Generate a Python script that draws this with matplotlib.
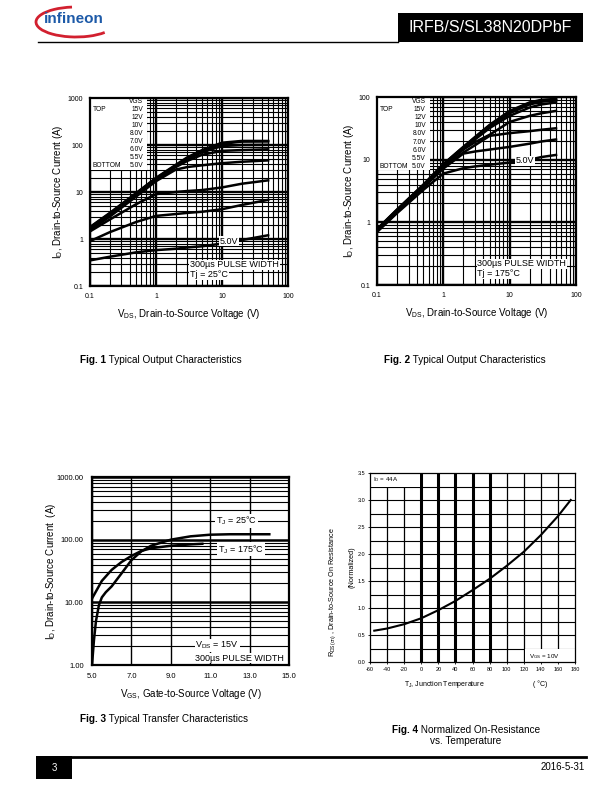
import matplotlib
matplotlib.use('Agg')
import matplotlib.pyplot as plt
from matplotlib.ticker import LogLocator, FixedLocator, NullFormatter
from matplotlib.patches import Rectangle, Arc

plt.rcParams['font.family'] = ['Liberation Sans', 'DejaVu Sans']
plt.rcParams['mathtext.fontset'] = 'custom'
plt.rcParams['mathtext.rm'] = 'Liberation Sans'
plt.rcParams['mathtext.it'] = 'Liberation Sans:italic'
plt.rcParams['mathtext.bf'] = 'Liberation Sans:bold'
plt.rcParams['axes.unicode_minus'] = False

# ---------------- data ----------------
vgs_labels = ['15V', '12V', '10V', '8.0V', '7.0V', '6.0V', '5.5V', '5.0V']

# Fig.1  Tj = 25C
vds_25 = [0.1, 0.2, 0.5, 1, 2, 3, 5, 10, 20, 50]
id25_15v = [1.8, 3.6, 9.5, 20, 38, 55, 78, 112, 122, 122]
id25_12v = [1.75, 3.5, 9.2, 19.5, 37, 53, 75, 106, 118, 119]
id25_10v = [1.7, 3.4, 9.0, 19, 36, 50, 70, 95, 100, 101]
id25_8v = [1.65, 3.3, 8.6, 18, 34, 46, 62, 75, 78, 81]
id25_7v = [1.55, 3.0, 8.0, 17, 30, 34, 37, 41, 44, 47]
id25_6v = [1.45, 2.6, 5.5, 9.0, 10, 10.5, 11, 12.5, 15, 17.7]
id25_55v = [0.9, 1.4, 2.3, 3.1, 3.4, 3.6, 3.8, 4.3, 5.3, 6.8]
id25_5v = [0.35, 0.42, 0.52, 0.58, 0.62, 0.66, 0.7, 0.8, 0.95, 1.2]

# Fig.2  Tj = 175C
vds_175 = [0.1, 0.2, 0.5, 1, 2, 3, 5, 10, 20, 30, 50]
id175_15v = [0.78, 1.6, 4.0, 8.5, 16, 23, 36, 60, 82, 90, 93]
id175_12v = [0.77, 1.58, 3.95, 8.4, 15.8, 22.5, 35, 58, 80, 88, 91]
id175_10v = [0.76, 1.55, 3.9, 8.3, 15.5, 22, 34, 55, 76, 84, 88]
id175_8v = [0.75, 1.52, 3.85, 8.2, 15, 21, 32, 50, 68, 76, 82]
id175_7v = [0.74, 1.5, 3.8, 8.0, 14.5, 19, 25, 40, 50, 55, 60]
id175_6v = [0.73, 1.47, 3.7, 7.7, 13, 17, 24, 26.5, 28.5, 30, 31.7]
id175_55v = [0.72, 1.45, 3.6, 7.2, 12.5, 13.5, 14.5, 16, 18, 19.5, 21]
id175_5v = [0.7, 1.4, 3.3, 6.0, 7.3, 7.8, 8.3, 9, 10, 11, 11.9]

# Fig.3  transfer characteristics
vgs_tj25 = [5.0, 5.1, 5.2, 5.35, 5.5, 5.7, 6.0, 6.5, 7.0, 7.5, 8.0, 9.0, 10.0, 11.0, 12.0, 14.0]
id_tj25 = [1.0, 2.5, 5.0, 9.0, 12, 14.5, 18, 29, 47, 65, 80, 100, 113, 120, 122, 122]
vgs_tj175 = [5.0, 5.5, 6.0, 6.5, 7.0, 7.5, 8.0, 9.0, 10.0, 10.6]
id_tj175 = [11.5, 22, 33, 44, 55, 66, 73, 80, 84, 86]

# Fig.4  normalized Rds(on)
tj = [-55, -40, -20, 0, 20, 40, 60, 80, 100, 120, 140, 160, 175]
rds_norm = [0.58, 0.62, 0.70, 0.81, 0.96, 1.13, 1.33, 1.54, 1.78, 2.04, 2.35, 2.70, 3.0]

W, H = 612, 792


def rect(l, t, r, b):
    return [l / W, 1 - b / H, (r - l) / W, (b - t) / H]


fig = plt.figure(figsize=(6.12, 7.92), dpi=100)

# page overlay in pixel coords
page = fig.add_axes([0, 0, 1, 1])
page.set_xlim(0, W)
page.set_ylim(H, 0)
page.axis('off')


def log_axes(ax):
    ax.set_axisbelow(True)
    ax.grid(which='major', color='k', lw=1.7)
    ax.grid(which='minor', color='k', lw=0.8)
    ax.tick_params(which='both', length=0, labelsize=5, pad=5)
    for s in ax.spines.values():
        s.set_linewidth(1.6)


def output_chart(ax, vds, curves, yl, yticks, box_w, box_b, y_vgs, y_top, dy, tjtxt, lbl5):
    for c in curves:
        ax.plot(vds, c, color='k', lw=1.8, zorder=3)
    ax.set_xscale('log')
    ax.set_yscale('log')
    ax.set_xlim(0.1, 100)
    ax.set_ylim(*yl)
    ax.xaxis.set_major_locator(FixedLocator([0.1, 1, 10, 100]))
    ax.set_xticklabels(['0.1', '1', '10', '100'])
    ax.yaxis.set_major_locator(FixedLocator(yticks))
    ax.set_yticklabels([('%g' % v) for v in yticks])
    ax.xaxis.set_minor_locator(LogLocator(subs=range(2, 10)))
    ax.yaxis.set_minor_locator(LogLocator(subs=range(2, 10)))
    ax.xaxis.set_minor_formatter(NullFormatter())
    ax.yaxis.set_minor_formatter(NullFormatter())
    log_axes(ax)
    # white legend area top-left
    ax.add_patch(Rectangle((0, box_b), box_w, 1 - box_b, transform=ax.transAxes,
                           facecolor='white', edgecolor='none', zorder=1))
    fs = 4.8
    xr = box_w - 0.02
    ax.text(xr, y_vgs, 'VGS', transform=ax.transAxes, ha='right', va='center', fontsize=fs)
    for i, lab in enumerate(vgs_labels):
        ax.text(xr, y_top - dy * i, lab, transform=ax.transAxes, ha='right', va='center', fontsize=fs)
    ax.text(0.015, y_top, 'TOP', transform=ax.transAxes, ha='left', va='center', fontsize=fs)
    ax.text(0.015, y_top - dy * 7, 'BOTTOM', transform=ax.transAxes, ha='left', va='center', fontsize=fs)
    bb = dict(facecolor='white', edgecolor='none', pad=0.6)
    ax.text(0.505, 0.112, '300µs PULSE WIDTH', transform=ax.transAxes, fontsize=6.5,
            va='center', ha='left', bbox=bb, zorder=4)
    ax.text(0.505, 0.059, tjtxt, transform=ax.transAxes, fontsize=6.5,
            va='center', ha='left', bbox=bb, zorder=4)
    ax.text(lbl5[0], lbl5[1], '5.0V', transform=ax.transAxes, fontsize=6.5,
            va='center', ha='center', bbox=bb, zorder=4)
    ax.set_xlabel(r'V$_{\rm DS}$, Drain-to-Source Voltage (V)', fontsize=7, labelpad=5)
    ax.set_ylabel(r'I$_{\rm D}$, Drain-to-Source Current (A)', fontsize=7, labelpad=2)


# ---------- Fig 1 ----------
ax1 = fig.add_axes(rect(90, 98, 288, 286))
output_chart(ax1, vds_25,
             [id25_15v, id25_12v, id25_10v, id25_8v, id25_7v, id25_6v, id25_55v, id25_5v],
             (0.1, 1000), [0.1, 1, 10, 100, 1000], 0.29, 0.615, 0.979, 0.94, 0.0426,
             'Tj = 25°C', (0.702, 0.239))

# ---------- Fig 2 ----------
ax2 = fig.add_axes(rect(377, 97, 576, 285))
output_chart(ax2, vds_175,
             [id175_15v, id175_12v, id175_10v, id175_8v, id175_7v, id175_6v, id175_55v, id175_5v],
             (0.1, 100), [0.1, 1, 10, 100], 0.265, 0.61, 0.975, 0.931, 0.0426,
             'Tj = 175°C', (0.744, 0.66))

# ---------- Fig 3 ----------
ax3 = fig.add_axes(rect(92, 477, 289, 665))
ax3.plot(vgs_tj25, id_tj25, color='k', lw=1.8, zorder=3)
ax3.plot(vgs_tj175, id_tj175, color='k', lw=1.8, zorder=3)
ax3.set_yscale('log')
ax3.set_xlim(5, 15)
ax3.set_ylim(1, 1000)
ax3.set_xticks([5, 7, 9, 11, 13, 15])
ax3.set_xticklabels(['5.0', '7.0', '9.0', '11.0', '13.0', '15.0'])
ax3.yaxis.set_major_locator(FixedLocator([1, 10, 100, 1000]))
ax3.set_yticklabels(['1.00', '10.00', '100.00', '1000.00'])
ax3.yaxis.set_minor_locator(LogLocator(subs=range(2, 10)))
ax3.yaxis.set_minor_formatter(NullFormatter())
ax3.set_axisbelow(True)
ax3.grid(which='major', axis='y', color='k', lw=1.8)
ax3.grid(which='minor', axis='y', color='k', lw=0.8)
ax3.grid(which='major', axis='x', color='k', lw=1.0)
ax3.tick_params(which='both', length=0, labelsize=5.5, pad=6)
for s in ax3.spines.values():
    s.set_linewidth(1.6)
bb = dict(facecolor='white', edgecolor='none', pad=0.6)
ax3.text(12.35, 200, r'T$_{\rm J}$ = 25°C', fontsize=6.5, ha='center', va='center', bbox=bb, zorder=4)
ax3.text(12.55, 70, r'T$_{\rm J}$ = 175°C', fontsize=6.5, ha='center', va='center', bbox=bb, zorder=4)
ax3.text(10.25, 2.08, r'V$_{\rm DS}$ = 15V', fontsize=6.5, ha='left', va='center', bbox=bb, zorder=4)
ax3.text(10.25, 1.29, '300µs PULSE WIDTH', fontsize=6.5, ha='left', va='center', bbox=bb, zorder=4)
ax3.set_xlabel(r'V$_{\rm GS}$, Gate-to-Source Voltage (V)', fontsize=7, labelpad=5)
ax3.set_ylabel(r'I$_{\rm D}$, Drain-to-Source Current  (A)', fontsize=7, labelpad=-1)

# ---------- Fig 4 ----------
ax4 = fig.add_axes(rect(370, 473, 575, 662))
ax4.plot(tj, rds_norm, color='k', lw=1.5, zorder=3)
ax4.set_xlim(-60, 180)
ax4.set_ylim(0, 3.5)
ax4.set_xticks(range(-60, 181, 20))
ax4.set_yticks([0, 0.5, 1.0, 1.5, 2.0, 2.5, 3.0, 3.5])
ax4.set_yticklabels(['0.0', '0.5', '1.0', '1.5', '2.0', '2.5', '3.0', '3.5'])
for x in range(-40, 180, 20):
    ax4.axvline(x, color='k', lw=2.2 if 0 <= x <= 80 else 0.9, zorder=0.5)
for k in range(1, 14):
    ax4.axhline(k * 0.25, color='k', lw=0.8, zorder=0.5)
ax4.add_patch(Rectangle((-60, 3.25), 58.5, 0.25, facecolor='white', edgecolor='none', zorder=1))
ax4.add_patch(Rectangle((121, 0.0), 59, 0.245, facecolor='white', edgecolor='none', zorder=1))
ax4.text(-56.5, 3.37, r'I$_{\rm D}$ = 44A', fontsize=4.5, ha='left', va='center', zorder=4)
ax4.text(126, 0.11, r'V$_{\rm GS}$ = 10V', fontsize=4.5, ha='left', va='center', zorder=4)
ax4.tick_params(which='both', length=1.5, width=0.6, labelsize=4, pad=2)
for s in ax4.spines.values():
    s.set_linewidth(0.9)

page.text(444, 684, r'T$_{\rm J}$, Junction Temperature', fontsize=5, ha='center', va='center')
page.text(540, 684, '( °C)', fontsize=5, ha='center', va='center')
page.text(333, 592, r'R$_{\rm DS(on)}$ , Drain-to-Source On Resistance', fontsize=5.2, rotation=90,
          ha='center', va='center')
page.text(352, 567, '(Normalized)', fontsize=5.2, rotation=90, ha='center', va='center')

# ---------- captions: bold "Fig. n" followed by regular text ----------
renderer = fig.canvas.get_renderer()


def caption(x, y, num, txt):
    t1 = page.text(x, y, 'Fig. %s' % num, fontsize=7.2, fontweight='bold', ha='left', va='baseline')
    ext = t1.get_window_extent(renderer)
    x1 = page.transData.inverted().transform((ext.x1, ext.y0))[0]
    page.text(x1, y, ' ' + txt, fontsize=7.2, ha='left', va='baseline')


caption(80, 363, '1', 'Typical Output Characteristics')
caption(384, 363, '2', 'Typical Output Characteristics')
caption(80, 722, '3', 'Typical Transfer Characteristics')
caption(392, 733, '4', 'Normalized On-Resistance')
page.text(466, 744, 'vs. Temperature', fontsize=7.2, ha='center', va='baseline')

# ---------- header ----------
page.add_patch(Rectangle((398, 13), 185, 29, facecolor='black', edgecolor='none'))
page.text(490.5, 28, 'IRFB/S/SL38N20DPbF', color='white', fontsize=11.5, ha='center', va='center')
page.plot([38, 398], [41.5, 41.5], color='black', lw=1.0)
page.text(44, 19, 'infineon', color='#1d5aa8', fontsize=11, ha='left', va='center',
          fontweight='bold')
page.add_patch(Arc((76, 22), 80, 30, theta1=20, theta2=255, color='#d2202f', lw=2.0))

# ---------- footer ----------
page.add_patch(Rectangle((36, 756), 36, 23, facecolor='black', edgecolor='none'))
page.text(54, 768, '3', color='white', fontsize=7, ha='center', va='center')
page.plot([72, 586], [756.5, 756.5], color='black', lw=2.0)
page.text(585, 767, '2016-5-31', fontsize=7, ha='right', va='center')

fig.savefig('out.png', dpi=100)
